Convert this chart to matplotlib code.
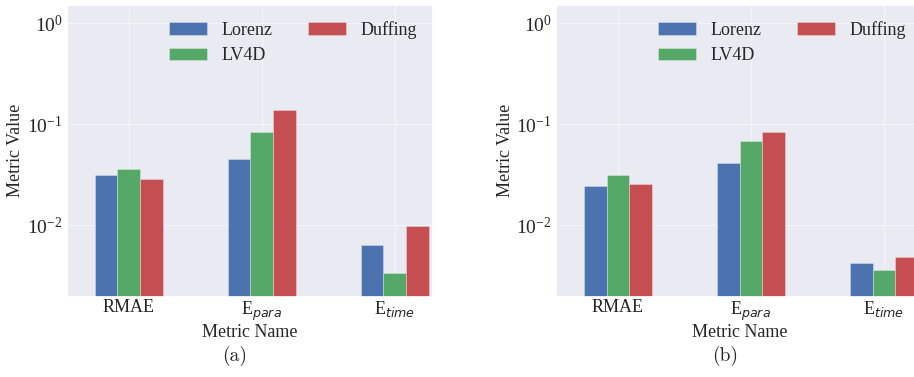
import numpy as np
import matplotlib
matplotlib.use("Agg")
import matplotlib.pyplot as plt
import seaborn as sns

sns.set_theme(style="darkgrid")
plt.rcParams["font.family"] = ["Liberation Serif", "DejaVu Serif"]
plt.rcParams["mathtext.fontset"] = "dejavusans"

# Metrics and systems
metrics = ["RMAE", "E$_{para}$", "E$_{time}$"]
systems = ["Lorenz", "LV4D", "Duffing"]
colors = ["#4C72B0", "#55A868", "#C44E52"]

# Panel (a)
lorenz_a = [0.0313, 0.0452, 0.00628]
lv4d_a = [0.0360, 0.0832, 0.00336]
duffing_a = [0.0284, 0.138, 0.00977]

# Panel (b)
lorenz_b = [0.0244, 0.0409, 0.00417]
lv4d_b = [0.0313, 0.0686, 0.00358]
duffing_b = [0.0255, 0.0843, 0.00482]

panels = [
    ("(a)", [lorenz_a, lv4d_a, duffing_a]),
    ("(b)", [lorenz_b, lv4d_b, duffing_b]),
]

W, H = 914, 377
fig = plt.figure(figsize=(W / 100, H / 100), dpi=100)

ax_w, ax_h = 366.6, 291.7
ax_bottom = H - 296.7
lefts = [66.7, 556.0]
caption_x = [235, 725]

bar_w = 0.17
x = np.arange(len(metrics))

for (caption, series), left, cx in zip(panels, lefts, caption_x):
    ax = fig.add_axes([left / W, ax_bottom / H, ax_w / W, ax_h / H])
    ax.set_yscale("log")
    for i, (name, vals, c) in enumerate(zip(systems, series, colors)):
        ax.bar(x + (i - 1) * bar_w, vals, width=bar_w, color=c, label=name,
               edgecolor=(1, 1, 1, 0.35), linewidth=0.6)
    ax.set_ylim(0.001945, 1.52)
    ax.set_xlim(-0.465, 2.29)
    ax.set_xticks(x)
    ax.set_xticklabels(metrics, fontsize=13)
    ax.set_yticks([1e-2, 1e-1, 1e0])
    ax.yaxis.set_minor_locator(matplotlib.ticker.NullLocator())
    ax.tick_params(axis="y", labelsize=14, length=0, pad=3)
    ax.tick_params(axis="x", length=0, pad=2)
    ax.grid(True, color="white", linewidth=0.7, alpha=0.55)
    ax.set_xlabel("Metric Name", fontsize=13, labelpad=1)
    ax.set_ylabel("Metric Value", fontsize=13, labelpad=2)
    ax.legend(ncol=2, loc="upper right", fontsize=13, frameon=False,
              handlelength=2.1, handleheight=0.7, handletextpad=0.8,
              columnspacing=2.0, labelspacing=0.45)
    fig.text(cx / W, 1 - 356 / H, caption, fontsize=14, family="cmr10",
             ha="center", va="center")

fig.savefig("out.png", dpi=100)
